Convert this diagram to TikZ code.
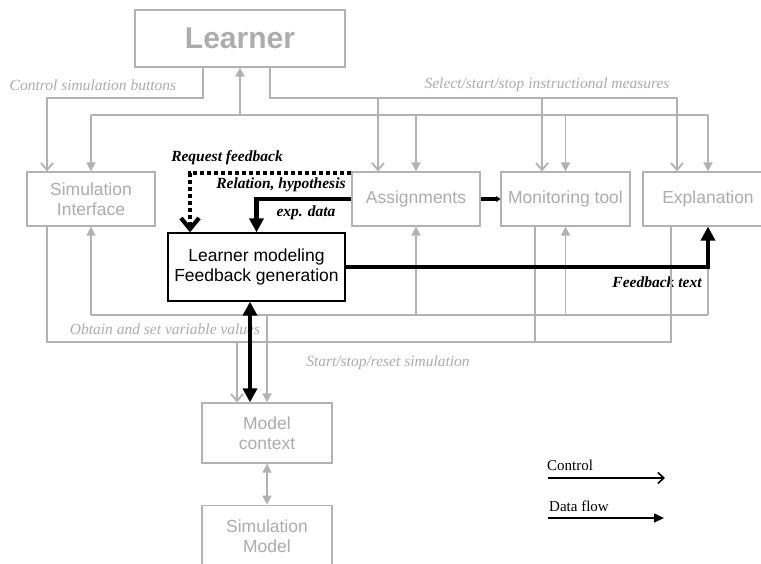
\documentclass[tikz,border=0pt]{standalone}
\usepackage{fontspec}
\setmainfont{Liberation Serif}
\setsansfont{Liberation Sans}
\usetikzlibrary{arrows.meta,positioning}
\definecolor{lightline}{RGB}{178,178,178}
\definecolor{lighttext}{RGB}{172,172,172}

\begin{document}
\begin{tikzpicture}[x=1pt,y=-1pt,
  comp/.style={draw=lightline,line width=1.3pt,text=lighttext,align=center,
    font=\sffamily\fontsize{17.5}{20}\selectfont,minimum height=54pt,inner sep=0pt},
  core/.style={draw=black,line width=1.3pt,align=center,
    font=\sffamily\fontsize{17.5}{20}\selectfont,inner sep=0pt},
  bus/.style={draw=lightline,line width=1.8pt},
  ctrl/.style={bus,-{Straight Barb[length=7pt,width=12pt]}},
  data/.style={bus,-{Triangle[length=9pt,width=9pt]}},
  flow/.style={draw=black,line width=4.2pt},
  note/.style={text=lighttext,font=\itshape\fontsize{15.5}{17}\selectfont,inner sep=0pt},
  tag/.style={font=\bfseries\itshape\fontsize{15.5}{17}\selectfont,inner sep=0pt},
  legend/.style={font=\fontsize{15}{17}\selectfont,inner sep=0pt,anchor=west}]
\useasboundingbox (0,0) rectangle (761,564);
\node[comp,minimum width=210pt,minimum height=57pt,
  font=\sffamily\bfseries\fontsize{30}{32}\selectfont] (learner) at (240,38.5) {Learner};
\node[comp,minimum width=128pt] (simint) at (91,199) {Simulation\\Interface};
\node[comp,minimum width=128pt] (assign) at (416,199) {Assignments};
\node[comp,minimum width=129pt] (monitor) at (565.5,199) {Monitoring tool};
\node[comp,minimum width=130pt] (explan) at (708,199) {Explanation};
\node[core,minimum width=177pt,minimum height=68pt] (lmfg) at (256.5,267) {Learner modeling\\Feedback generation};
\node[comp,minimum width=130pt,minimum height=60pt] (modctx) at (267,433) {Model\\context};
\node[comp,minimum width=130pt,minimum height=62pt,below=41pt of modctx] (simmod) {Simulation\\Model};

\node[note] (lblbuttons) at (93,85) {Control simulation buttons};
\node[note] (lblmeasures) at (547,85) {Select/start/stop instructional measures};
\node[note] (lblvalues) at (165,329) {Obtain and set variable values};
\node[note] (lblsim) at (388,363) {Start/stop/reset simulation};
\node[tag] (lblrequest) at (227,158) {Request feedback};
\node[tag] (lblrelation) at (281,185) {Relation, hypothesis};
\node[tag] (lblexp) at (306,213) {exp. data};
\node[tag] (lblfeedback) at (657,282) {Feedback text};
\node[legend] (lgctrl) at (547,465) {Control};
\node[legend] (lgdata) at (549,506) {Data flow};

\coordinate (ctlbus) at (0,98);
\coordinate (databus) at (0,115);
\coordinate (valbus) at (0,315);
\coordinate (simbus) at (0,342);
\coordinate (lrnA) at ([xshift=-37pt]learner.south);
\coordinate (lrnB) at ([xshift=30pt]learner.south);
\coordinate (simA) at ([xshift=-44pt]simint.north);
\coordinate (asgA) at ([xshift=-38pt]assign.north);
\coordinate (asgTL) at ([yshift=-2pt]assign.north west);
\coordinate (monA) at ([xshift=-23.5pt]monitor.north);
\coordinate (monB) at ([xshift=-30.5pt]monitor.south);
\coordinate (expA) at ([xshift=-31pt]explan.north);
\coordinate (expB) at ([xshift=-37pt]explan.south);
\coordinate (lmfgA) at ([xshift=-66.5pt]lmfg.north);
\coordinate (lmfgB) at ([xshift=-6.5pt]lmfg.south);
\coordinate (ctxA) at ([xshift=-30pt]modctx.north);
\coordinate (lgctrlA) at (548,478);
\coordinate (lgctrlB) at (665,478);
\coordinate (lgdataA) at (548,518);
\coordinate (lgdataB) at (664,518);

\draw[ctrl] (lrnA) |- (simA |- ctlbus) -- (simA);
\draw[ctrl] (lrnB) |- (expA |- ctlbus) -- (expA);
\foreach \p in {asgA,monA}
  \draw[ctrl] (\p |- ctlbus) -- (\p);
\draw[bus] (simint.north |- databus) -- (explan.north |- databus);
\draw[data] (learner.south |- databus) -- (learner.south);
\foreach \n in {simint,assign,monitor,explan}
  \draw[data] (\n.north |- databus) -- (\n.north);
\draw[bus] (simint.south |- valbus) -- (explan.south |- valbus);
\foreach \n in {simint,assign,monitor,explan}
  \draw[data] (\n.south |- valbus) -- (\n.south);
\draw[data] (modctx.north |- valbus) -- (modctx.north);
\draw[bus] (simA |- simint.south) |- (expB |- simbus) -- (expB |- explan.south);
\draw[bus] (monB) -- (monB |- simbus);
\draw[ctrl] (ctxA |- simbus) -- (ctxA);
\draw[bus,{Triangle[length=9pt,width=9pt]}-{Triangle[length=9pt,width=9pt]}] (modctx.south) -- (simmod.north);

\draw[flow,dash pattern=on 4pt off 3pt,-{Straight Barb[length=11pt,width=18pt]}] (asgTL) -| (lmfgA);
\draw[flow,-{Triangle[length=14pt,width=14pt]}] (assign.west) -| (lmfg.north);
\draw[flow,-{Triangle[length=4pt,width=6pt]}] (assign.east) -- (monitor.west);
\draw[flow,-{Triangle[length=14pt,width=14pt]}] (lmfg.east) -| (explan.south);
\draw[flow,{Triangle[length=14pt,width=14pt]}-{Triangle[length=14pt,width=14pt]}] (lmfgB) -- (lmfgB |- modctx.north);

\draw[black,line width=1.6pt,-{Straight Barb[length=6pt,width=11pt]}] (lgctrlA) -- (lgctrlB);
\draw[black,line width=1.6pt,-{Triangle[length=10pt,width=9pt]}] (lgdataA) -- (lgdataB);
\end{tikzpicture}
\end{document}
